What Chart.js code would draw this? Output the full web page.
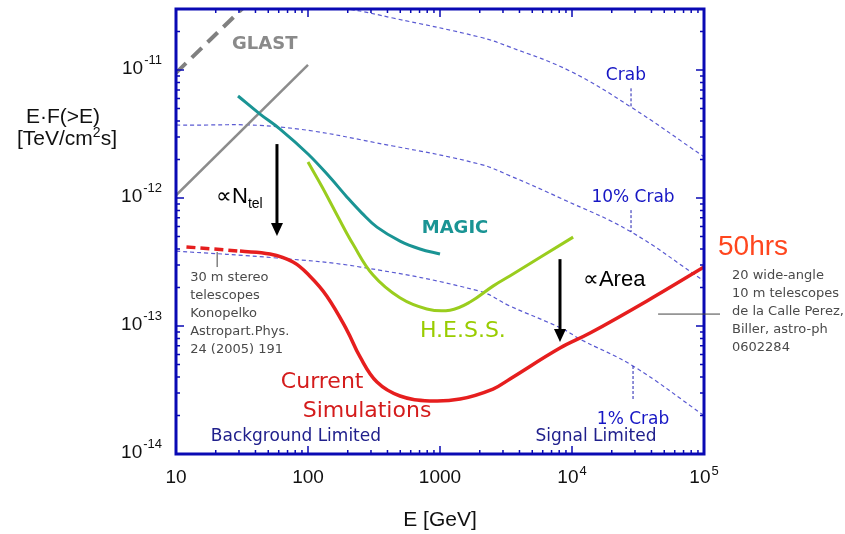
<!DOCTYPE html>
<html>
<head>
<meta charset="utf-8">
<script src="https://cdn.jsdelivr.net/npm/chart.js@4.4.1/dist/chart.umd.min.js"></script>
<style>
	html, body { margin: 0; padding: 0; background: #fff; }
</style>
</head>
<body>
<canvas id="myChart" width="845" height="534"></canvas>
<script>
// energy in GeV, flux E*F(>E) in TeV/cm2/s
var xTicks = [10, 100, 1000, 10000, 100000];
var yTicks = [1e-14, 1e-13, 1e-12, 1e-11];

var glastE = [10, 100];
var glastF = [1.05e-12, 1.1e-11];
var glastExtE = [10, 40];
var glastExtF = [9.5e-12, 3.8e-11];

var magicE = [29.5, 43.3, 61.4, 100, 146, 197, 256, 333, 498, 705, 1000];
var magicF = [6.27e-12, 4.53e-12, 3.46e-12, 2.21e-12, 1.46e-12, 1.02e-12, 7.63e-13, 5.93e-13, 4.61e-13, 4.0e-13, 3.65e-13];

var hessE = [100, 128, 169, 219, 311, 497, 794, 1190, 1690, 2520, 3380, 10200];
var hessF = [1.91e-12, 1.22e-12, 7.11e-13, 4.37e-13, 2.5e-13, 1.66e-13, 1.36e-13, 1.33e-13, 1.54e-13, 2.05e-13, 2.46e-13, 4.95e-13];

var simE = [30.5, 51.5, 77, 103, 139, 197, 248, 333, 498, 840, 1420, 2520, 3390, 8110, 13700, 37000, 100000];
var simF = [3.85e-13, 3.65e-13, 3.16e-13, 2.46e-13, 1.71e-13, 9.3e-14, 5.73e-14, 3.65e-14, 2.84e-14, 2.6e-14, 2.69e-14, 3.22e-14, 3.86e-14, 6.73e-14, 8.81e-14, 1.57e-13, 2.89e-13];
var simExtE = [12, 30.5];
var simExtF = [4.15e-13, 3.85e-13];

var crabE = [10, 60, 200, 440, 2000, 3400, 9700, 27500, 100000];
var crabF = [3.7e-11, 3.45e-11, 3.0e-11, 2.55e-11, 1.81e-11, 1.51e-11, 9.8e-12, 5.2e-12, 2.1e-12];
var crab10E = [10, 60, 440, 2000, 3400, 8500, 27500, 100000];
var crab10F = [3.72e-12, 3.6e-12, 2.55e-12, 1.84e-12, 1.49e-12, 9.8e-13, 5.5e-13, 2.25e-13];
var crab1E = [10, 58, 250, 2000, 3400, 8500, 11500, 29000, 100000];
var crab1F = [3.85e-13, 3.4e-13, 2.89e-13, 1.87e-13, 1.43e-13, 9.5e-14, 7.9e-14, 4.87e-14, 2.0e-14];

!(function(){
	'use strict';

	var BLUE = '#0a0ab4';
	var SANS = '"Liberation Sans", Arial, sans-serif';
	var TAHOMA = '"DejaVu Sans", sans-serif';

	function pts(xs, ys){
		return xs.map(function(x, i){ return { x: x, y: ys[i] }; });
	}

	function line(label, xs, ys, color, width, dash, smooth){
		return {
			label: label,
			data: pts(xs, ys),
			borderColor: color,
			borderWidth: width,
			borderDash: dash || [],
			fill: false,
			pointRadius: 0,
			tension: smooth ? 0.4 : 0,
			borderCapStyle: 'butt',
			clip: 0
		};
	}

	function txt(c, s, x, y, font, color, align){
		c.font = font;
		c.fillStyle = color;
		c.textAlign = align || 'center';
		c.textBaseline = 'middle';
		c.fillText(s, x, y);
	}

	// "10" with a raised exponent
	function pow(c, base, exp, x, y, align, raise){
		c.font = '19px ' + SANS;
		var w1 = c.measureText(base).width;
		c.font = '13px ' + SANS;
		var w2 = exp ? c.measureText(exp).width + 1 : 0;
		var left = align === 'right' ? x - w1 - w2 : x - (w1 + w2) / 2;
		c.fillStyle = '#111';
		c.textAlign = 'left';
		c.textBaseline = 'alphabetic';
		c.font = '19px ' + SANS;
		c.fillText(base, left, y);
		if (exp) {
			c.font = '13px ' + SANS;
			c.fillText(exp, left + w1 + 1, y - raise);
		}
	}

	var frame = {
		id: 'frame',
		afterDatasetsDraw: function(chart){
			var c = chart.ctx;
			var a = chart.chartArea;
			var sx = chart.scales.x, sy = chart.scales.y;
			function X(v){ return sx.getPixelForValue(v); }
			function Y(v){ return sy.getPixelForValue(v); }
			c.save();

			// box
			c.strokeStyle = BLUE;
			c.lineWidth = 3;
			c.strokeRect(a.left, a.top, a.right - a.left, a.bottom - a.top);

			// inner ticks, all four sides
			c.lineWidth = 1.5;
			c.beginPath();
			var d, k, v, p, len;
			for (d = 1; d <= 5; d++) {
				for (k = 1; k <= 9; k++) {
					v = k * Math.pow(10, d);
					if (v > 100000 || (d === 5 && k > 1)) continue;
					p = X(v);
					len = k === 1 ? 8 : 4;
					c.moveTo(p, a.bottom); c.lineTo(p, a.bottom - len);
					c.moveTo(p, a.top); c.lineTo(p, a.top + len);
				}
			}
			for (d = -14; d <= -11; d++) {
				for (k = 1; k <= 9; k++) {
					v = k * Math.pow(10, d);
					if (v > 3e-11) continue;
					p = Y(v);
					len = k === 1 ? 8 : 4;
					c.moveTo(a.left, p); c.lineTo(a.left + len, p);
					c.moveTo(a.right, p); c.lineTo(a.right - len, p);
				}
			}
			c.stroke();

			// tick labels
			xTicks.forEach(function(t){
				var e = Math.round(Math.log10(t));
				if (e <= 3) pow(c, String(t), '', X(t), a.bottom + 29, 'center', 0);
				else pow(c, '10', String(e), X(t), a.bottom + 29, 'center', 8);
			});
			yTicks.forEach(function(t){
				var e = Math.round(Math.log10(t));
				pow(c, '10', '-' + String(-e), a.left - 14, Y(t) + 4, 'right', 10);
			});

			// axis titles
			c.fillStyle = '#111';
			c.textAlign = 'center';
			c.textBaseline = 'alphabetic';
			c.font = '21px ' + SANS;
			c.fillText('E [GeV]', (a.left + a.right) / 2, 526);
			c.fillText('E\u00b7F(>E)', 63, 123);
			var w1 = c.measureText('[TeV/cm').width, w3 = c.measureText('s]').width;
			c.font = '14px ' + SANS;
			var w2 = c.measureText('2').width;
			var lx = 67 - (w1 + w2 + w3) / 2;
			c.textAlign = 'left';
			c.font = '21px ' + SANS;
			c.fillText('[TeV/cm', lx, 145);
			c.fillText('s]', lx + w1 + w2, 145);
			c.font = '14px ' + SANS;
			c.fillText('2', lx + w1, 137);

			// curve names
			txt(c, 'GLAST', X(47), Y(1.6e-11), 'bold 18px ' + TAHOMA, '#8a8a8a');
			txt(c, 'MAGIC', X(1300), Y(5.83e-13), 'bold 18px ' + TAHOMA, '#1a9494');
			txt(c, 'H.E.S.S.', X(1490), Y(9.14e-14), '22px ' + TAHOMA, '#99cc00');
			txt(c, 'Current', X(128), Y(3.65e-14), '22px ' + TAHOMA, '#d41c1c');
			txt(c, 'Simulations', X(280), Y(2.17e-14), '22px ' + TAHOMA, '#d41c1c');

			// crab labels and their little dashed leaders
			txt(c, 'Crab', X(25600), Y(9.1e-12), '17px ' + TAHOMA, '#1616c4');
			txt(c, '10% Crab', X(29000), Y(1e-12), '17px ' + TAHOMA, '#1616c4');
			txt(c, '1% Crab', X(29000), Y(1.87e-14), '17px ' + TAHOMA, '#1616c4');
			txt(c, 'Background Limited', X(81), Y(1.36e-14), '17px ' + TAHOMA, '#20208c');
			txt(c, 'Signal Limited', X(15200), Y(1.36e-14), '17px ' + TAHOMA, '#20208c');
			c.strokeStyle = '#2020b0';
			c.lineWidth = 1;
			c.setLineDash([3, 2]);
			c.beginPath();
			c.moveTo(X(28000), Y(7.2e-12)); c.lineTo(X(28000), Y(5.2e-12));
			c.moveTo(X(28000), Y(8.05e-13)); c.lineTo(X(28000), Y(5.42e-13));
			c.moveTo(X(29000), Y(4.87e-14)); c.lineTo(X(29000), Y(2.6e-14));
			c.stroke();
			c.setLineDash([]);

			// scaling arrows
			function arrow(e, f1, f2){
				var x = X(e), y1 = Y(f1), y2 = Y(f2);
				c.strokeStyle = '#000';
				c.fillStyle = '#000';
				c.lineWidth = 3;
				c.beginPath(); c.moveTo(x, y1); c.lineTo(x, y2 - 10); c.stroke();
				c.beginPath(); c.moveTo(x - 6, y2 - 13); c.lineTo(x + 6, y2 - 13); c.lineTo(x, y2); c.closePath(); c.fill();
			}
			arrow(58.2, 2.64e-12, 5.05e-13);
			arrow(8110, 3.33e-13, 7.5e-14);

			c.fillStyle = '#000';
			c.textAlign = 'left';
			c.textBaseline = 'alphabetic';
			c.font = '22px ' + SANS;
			var nx = X(20.1), ny = Y(9.14e-13);
			c.fillText('\u221dN', nx, ny);
			var nw = c.measureText('\u221dN').width;
			c.font = '14px ' + SANS;
			c.fillText('tel', nx + nw, ny + 5);
			c.font = '22px ' + SANS;
			c.fillText('\u221dArea', X(12100), Y(2.05e-13));

			// reference notes
			var i;
			var left = ['30 m stereo', 'telescopes', 'Konopelko', 'Astropart.Phys.', '24 (2005) 191'];
			for (i = 0; i < left.length; i++) {
				txt(c, left[i], X(12.8), Y(2.37e-13) + i * 18, '13px ' + TAHOMA, '#4a4a4a', 'left');
			}
			var right = ['20 wide-angle', '10 m telescopes', 'de la Calle Perez,', 'Biller, astro-ph', '0602284'];
			for (i = 0; i < right.length; i++) {
				txt(c, right[i], a.right + 28, Y(2.46e-13) + i * 18, '13px ' + TAHOMA, '#4a4a4a', 'left');
			}
			c.strokeStyle = '#444';
			c.lineWidth = 1;
			c.beginPath();
			c.moveTo(X(20.5), Y(3.79e-13)); c.lineTo(X(20.5), Y(2.89e-13));
			c.moveTo(X(44900), Y(1.24e-13)); c.lineTo(a.right + 16, Y(1.24e-13));
			c.stroke();

			txt(c, '50hrs', a.right + 14, Y(4.14e-13), '28px ' + SANS, '#ff461e', 'left');

			c.restore();
		}
	};

	var ctx = document.getElementById('myChart').getContext('2d');
	var myChart = new Chart(ctx, {
		type: 'line',
		data: {
			datasets: [
				line('Current Simulations', simE, simF, '#e61e1e', 3.5, null, true),
				line('Current Simulations (ext)', simExtE, simExtF, '#e61e1e', 3.5, [9, 5], false),
				line('H.E.S.S.', hessE, hessF, '#9acd1e', 3, null, true),
				line('MAGIC', magicE, magicF, '#1a9494', 3, null, true),
				line('GLAST', glastE, glastF, '#8c8c8c', 2.5, null, false),
				line('GLAST (ext)', glastExtE, glastExtF, '#808080', 4, [14, 8], false),
				line('Crab', crabE, crabF, '#5a5ad2', 1.2, [4, 3], true),
				line('10% Crab', crab10E, crab10F, '#5a5ad2', 1.2, [4, 3], true),
				line('1% Crab', crab1E, crab1F, '#5a5ad2', 1.2, [4, 3], true)
			]
		},
		options: {
			responsive: false,
			animation: false,
			layout: { padding: { left: 176, right: 141, top: 9, bottom: 80 } },
			scales: {
				x: { type: 'logarithmic', min: 10, max: 100000, display: false },
				y: { type: 'logarithmic', min: 1e-14, max: 3e-11, display: false }
			},
			plugins: {
				legend: { display: false },
				tooltip: { enabled: false }
			}
		},
		plugins: [frame]
	});
})();
</script>
</body>
</html>
